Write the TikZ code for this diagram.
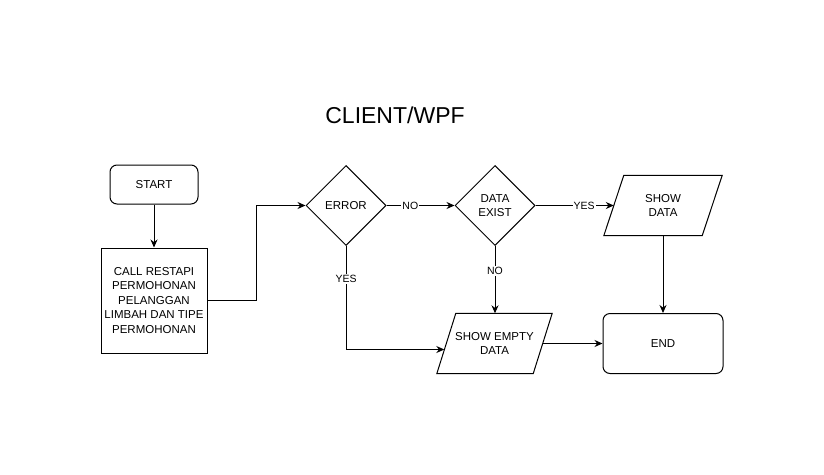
\documentclass[tikz,border=0pt]{standalone}
\usepackage{fontspec}
\setmainfont{Liberation Sans}
\usetikzlibrary{shapes.geometric,arrows.meta,calc}
\begin{document}
\begin{tikzpicture}[x=1pt,y=-1pt,
  base/.style={draw=black,line width=1pt,align=center,font=\fontsize{11.5}{14.5}\selectfont,inner sep=0pt},
  term/.style={base,rounded corners=7pt},
  proc/.style={base},
  dec/.style={base,diamond,aspect=1,minimum width=80pt,minimum height=80pt},
  iobox/.style={align=center,font=\fontsize{11.5}{14.5}\selectfont,inner sep=0pt},
  par/.style={draw=black,line width=1pt},
  arr/.style={draw=black,line width=1pt,-{Stealth[length=8pt,width=7pt]}},
  lbl/.style={font=\fontsize{10.5}{12}\selectfont,fill=white,inner sep=1pt}]
\useasboundingbox[fill=white] (0,0) rectangle (824,474);
\node[font=\fontsize{23}{28}\selectfont] (title) at (395,115) {CLIENT/WPF};
\node[term,minimum width=88pt,minimum height=39pt] (start) at (154,184.5) {START};
\node[proc,minimum width=106pt,minimum height=105pt] (call) at (154,300.5) {CALL RESTAPI\\PERMOHONAN\\PELANGGAN\\LIMBAH DAN TIPE\\PERMOHONAN};
\node[dec] (error) at (346,205.5) {ERROR};
\node[dec] (exist) at (495,205.5) {DATA\\EXIST};
\node[iobox,minimum width=98pt,minimum height=60pt] (sd) at (663,205.5) {SHOW\\DATA};
\draw[par] ($(sd.south west)+(-10,0)$) -- ($(sd.south east)+(-10,0)$) -- ($(sd.north east)+(10,0)$) -- ($(sd.north west)+(10,0)$) -- cycle;
\node[iobox,minimum width=96pt,minimum height=60pt] (se) at (494.5,343.5) {SHOW EMPTY\\DATA};
\draw[par] ($(se.south west)+(-9.5,0)$) -- ($(se.south east)+(-9.5,0)$) -- ($(se.north east)+(9.5,0)$) -- ($(se.north west)+(9.5,0)$) -- cycle;
\node[term,minimum width=120pt,minimum height=60pt] (end) at (663,343.5) {END};
\coordinate (bend) at ($(call.east)!0.5!(error.west)$);
\coordinate (seIn) at ($(se.west)+(-2,6)$);
\draw[arr] (start) -- (call);
\draw[arr] (call.east) -| (bend) |- (error.west);
\draw[arr] (error.east) -- node[lbl,pos=0.35] {NO} (exist.west);
\draw[arr] (exist.east) -- node[lbl,pos=0.62] {YES} (sd.west);
\draw[arr] (exist.south) -- node[lbl,pos=0.37] {NO} (exist.south |- se.north);
\draw[arr] (error.south) |- node[lbl,pos=0.16] {YES} (seIn);
\draw[arr] (sd.south) -- (end.north);
\draw[arr] (se.east) -- (end.west);
\end{tikzpicture}
\end{document}
